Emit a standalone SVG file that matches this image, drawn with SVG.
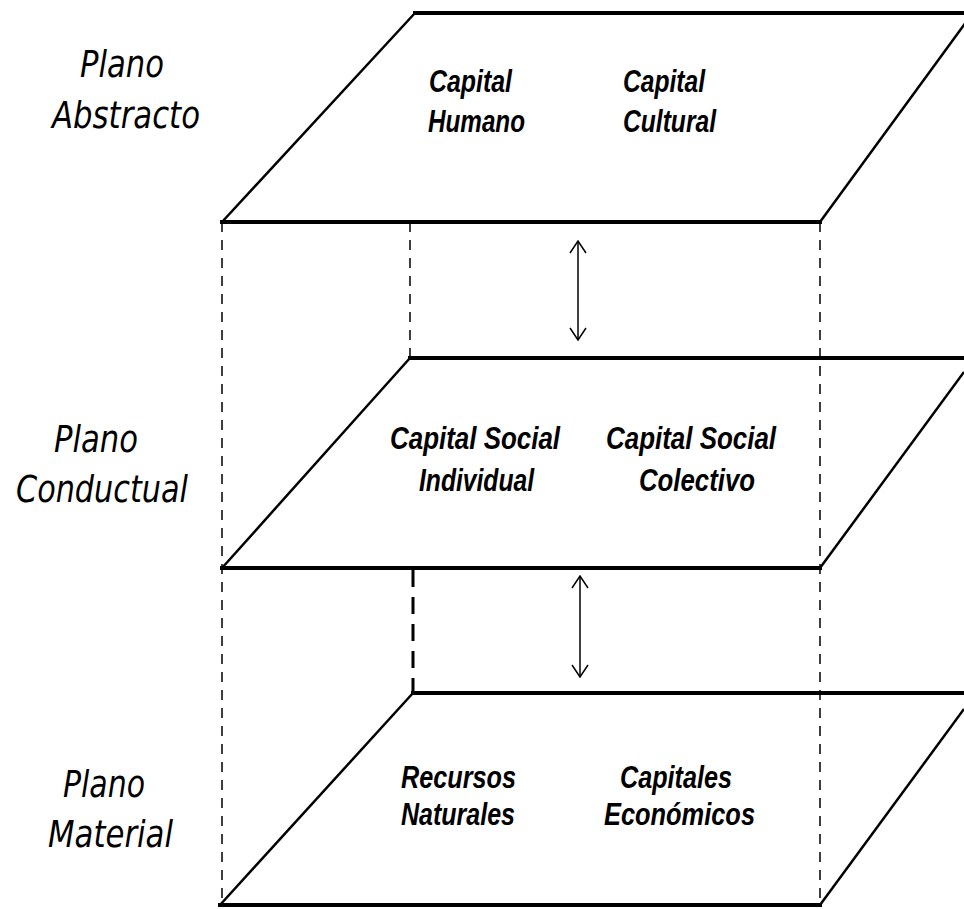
<svg xmlns="http://www.w3.org/2000/svg" width="964" height="909" viewBox="0 0 964 909">
<defs>
<style>
.edge{stroke:#000;stroke-width:4;fill:none;stroke-linecap:square}
.slant{stroke:#000;stroke-width:2.5;fill:none}
.dash{stroke:#000;stroke-width:1.5;stroke-dasharray:10 8;fill:none}
.dashb{stroke:#000;stroke-width:3;stroke-dasharray:17 10;fill:none}
.arr{stroke:#000;stroke-width:1.5;fill:none}
.lbl{font-family:"DejaVu Sans",sans-serif;font-style:italic;font-size:38px;fill:#000}
.cap{font-family:"Liberation Sans",Arial,sans-serif;font-style:italic;font-weight:bold;font-size:32px;fill:#000}
</style>
<marker id="ah" viewBox="0 0 14 20" refX="13" refY="10" markerWidth="14" markerHeight="20" markerUnits="userSpaceOnUse" orient="auto-start-reverse">
<path d="M1,2 L13,10 L1,18" fill="none" stroke="#000" stroke-width="1.5"/>
</marker>
</defs>
<rect width="964" height="909" fill="#fff"/>

<g id="connectors">
<line class="dash" x1="222" y1="222" x2="222" y2="905"/>
<line class="dash" x1="820" y1="222" x2="820" y2="905"/>
<line class="dash" x1="410" y1="222" x2="410" y2="358"/>
<line class="dashb" x1="413" y1="570" x2="413" y2="693"/>
<line class="arr" x1="578" y1="241" x2="578" y2="340" marker-start="url(#ah)" marker-end="url(#ah)"/>
<line class="arr" x1="580" y1="576" x2="580" y2="677" marker-start="url(#ah)" marker-end="url(#ah)"/>
</g>

<g id="plano-abstracto">
<line class="edge" x1="415" y1="13" x2="964" y2="13"/>
<line class="edge" x1="222" y1="222" x2="820" y2="222"/>
<line class="slant" x1="222" y1="222" x2="415" y2="13"/>
<line class="slant" x1="820" y1="222" x2="972" y2="14"/>
<text class="lbl" x="80" y="77" textLength="84" lengthAdjust="spacingAndGlyphs">Plano</text>
<text class="lbl" x="52" y="128" textLength="148" lengthAdjust="spacingAndGlyphs">Abstracto</text>
<text class="cap" x="429" y="92" textLength="83" lengthAdjust="spacingAndGlyphs">Capital</text>
<text class="cap" x="428" y="132" textLength="97" lengthAdjust="spacingAndGlyphs">Humano</text>
<text class="cap" x="623" y="92" textLength="82" lengthAdjust="spacingAndGlyphs">Capital</text>
<text class="cap" x="623" y="132" textLength="93" lengthAdjust="spacingAndGlyphs">Cultural</text>
</g>

<g id="plano-conductual">
<line class="edge" x1="410" y1="358" x2="964" y2="358"/>
<line class="edge" x1="222" y1="568" x2="820" y2="568"/>
<line class="slant" x1="222" y1="568" x2="410" y2="358"/>
<line class="slant" x1="820" y1="568" x2="964" y2="372"/>
<text class="lbl" x="54" y="452" textLength="84" lengthAdjust="spacingAndGlyphs">Plano</text>
<text class="lbl" x="16" y="502" textLength="172" lengthAdjust="spacingAndGlyphs">Conductual</text>
<text class="cap" x="390" y="449" textLength="170" lengthAdjust="spacingAndGlyphs">Capital Social</text>
<text class="cap" x="419" y="491" textLength="115" lengthAdjust="spacingAndGlyphs">Individual</text>
<text class="cap" x="606" y="449" textLength="170" lengthAdjust="spacingAndGlyphs">Capital Social</text>
<text class="cap" x="639" y="491" textLength="116" lengthAdjust="spacingAndGlyphs">Colectivo</text>
</g>

<g id="plano-material">
<line class="edge" x1="413" y1="693" x2="964" y2="693"/>
<line class="edge" x1="220" y1="905" x2="820" y2="905"/>
<line class="slant" x1="220" y1="905" x2="413" y2="693"/>
<line class="slant" x1="820" y1="905" x2="964" y2="709"/>
<text class="lbl" x="63" y="797" textLength="82" lengthAdjust="spacingAndGlyphs">Plano</text>
<text class="lbl" x="48" y="847" textLength="125" lengthAdjust="spacingAndGlyphs">Material</text>
<text class="cap" x="401" y="788" textLength="115" lengthAdjust="spacingAndGlyphs">Recursos</text>
<text class="cap" x="401" y="825" textLength="114" lengthAdjust="spacingAndGlyphs">Naturales</text>
<text class="cap" x="620" y="788" textLength="112" lengthAdjust="spacingAndGlyphs">Capitales</text>
<text class="cap" x="604" y="825" textLength="151" lengthAdjust="spacingAndGlyphs">Económicos</text>
</g>
</svg>
